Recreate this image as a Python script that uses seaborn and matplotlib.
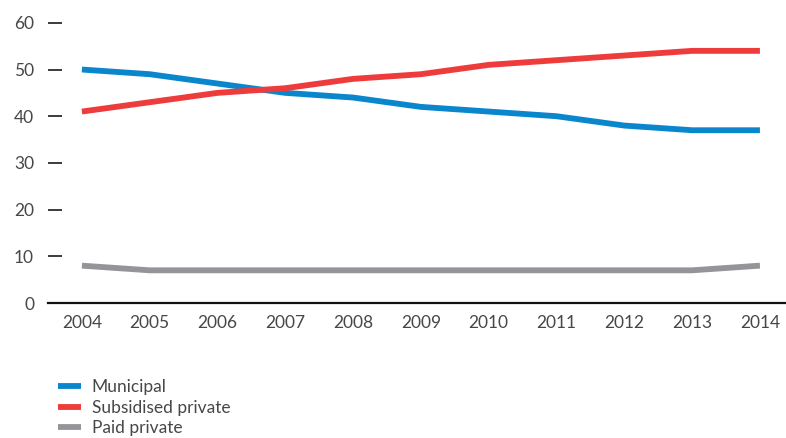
import matplotlib
matplotlib.use("Agg")
import matplotlib.pyplot as plt
import seaborn as sns
import pandas as pd

years = [2004, 2005, 2006, 2007, 2008, 2009, 2010, 2011, 2012, 2013, 2014]
municipal = [50, 49, 47, 45, 44, 42, 41, 40, 38, 37, 37]
subsidised_private = [41, 43, 45, 46, 48, 49, 51, 52, 53, 54, 54]
paid_private = [8, 7, 7, 7, 7, 7, 7, 7, 7, 7, 8]
series_names = ["Municipal", "Subsidised private", "Paid private"]
y_ticks = [0, 10, 20, 30, 40, 50, 60]

colors = ["#0a87cc", "#ee3b3b", "#939598"]

df = pd.DataFrame({
    "year": years * 3,
    "share": municipal + subsidised_private + paid_private,
    "type": sum([[n] * len(years) for n in series_names], []),
})

sns.set_style("white")
plt.rcParams["font.family"] = ["Lato", "DejaVu Sans"]
text_color = "#474747"
font_size = 12.5

fig = plt.figure(figsize=(7.86, 4.38), dpi=100)
ax = fig.add_axes([48 / 786, 1 - 303 / 438, (785 - 48) / 786, (303 - 20.5) / 438])

sns.lineplot(data=df, x="year", y="share", hue="type", hue_order=series_names,
             palette=colors, linewidth=4.2, ax=ax, legend=False,
             solid_capstyle="butt", solid_joinstyle="round")

ax.set_xlim(2003.5, 2014.37)
ax.set_ylim(0, 60.5)
ax.set_xticks(years)
ax.set_xticklabels([str(y) for y in years])
ax.set_yticks(y_ticks)
ax.set_yticklabels([str(v) for v in y_ticks])
ax.set_xlabel("")
ax.set_ylabel("")

for side in ["top", "right", "left"]:
    ax.spines[side].set_visible(False)
ax.spines["bottom"].set_color("#111111")
ax.spines["bottom"].set_linewidth(1.6)

ax.tick_params(axis="y", direction="in", length=10, width=1.2, color="#1a1a1a",
               pad=10, labelsize=font_size, labelcolor=text_color, left=True)
ax.tick_params(axis="x", length=0, pad=8.5, labelsize=font_size, labelcolor=text_color)

handles = [plt.Line2D([], [], color=c, linewidth=4.2, solid_capstyle="butt") for c in colors]
leg = fig.legend(handles, series_names, loc="upper left",
                 bbox_to_anchor=(51 / 786, 1 - 372 / 438), frameon=False,
                 handlelength=1.3, handletextpad=0.65, labelspacing=0.27,
                 prop={"size": font_size}, borderaxespad=0)
for t in leg.get_texts():
    t.set_color(text_color)

fig.savefig("out.png", dpi=100)
